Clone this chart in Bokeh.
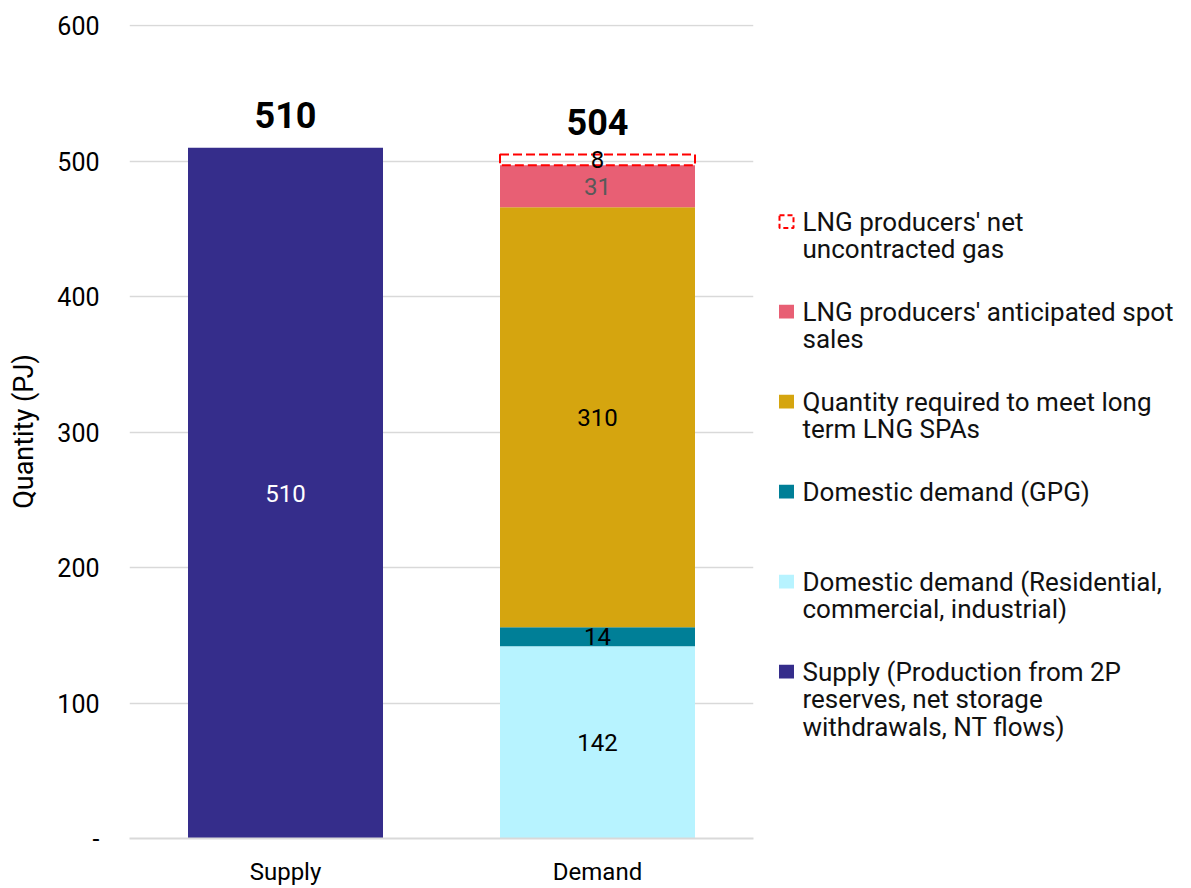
from bokeh.plotting import figure
from bokeh.models import FactorRange, Range1d, FixedTicker, ColumnDataSource
from bokeh.layouts import row
from bokeh.core.properties import value
from bokeh.embed import file_html
from bokeh.resources import INLINE

# ---------------- data ----------------
categories = ["Supply", "Demand"]
supply_value = 510
demand_segments = ["Domestic demand (Residential, commercial, industrial)",
                   "Domestic demand (GPG)",
                   "Quantity required to meet long term LNG SPAs",
                   "LNG producers' anticipated spot sales",
                   "LNG producers' net uncontracted gas"]
demand_values = [142, 14, 310, 31, 8]
totals = [510, 504]
y_ticks = [0, 100, 200, 300, 400, 500, 600]

legend_labels = ["LNG producers' net\nuncontracted gas",
                 "LNG producers' anticipated spot\nsales",
                 "Quantity required to meet long\nterm LNG SPAs",
                 "Domestic demand (GPG)",
                 "Domestic demand (Residential,\ncommercial, industrial)",
                 "Supply (Production from 2P\nreserves, net storage\nwithdrawals, NT flows)"]

# ---------------- styles ----------------
C_SUPPLY = "#352D8B"
seg_colors = ["#B7F3FF", "#007F97", "#D5A50F", "#E85F74", None]
seg_label_colors = ["#000000", "#000000", "#000000", "#595959", "#000000"]
legend_colors = ["#FF0000", "#E85F74", "#D5A50F", "#007F97", "#B7F3FF", C_SUPPLY]
FONT = "Roboto"
NARROW = "Liberation Sans Narrow, Roboto"
GRID = "#D9D9D9"
BAR_W = 0.625

p = figure(x_range=FactorRange(factors=categories, range_padding=0),
           y_range=Range1d(0, 601), width=770, height=888,
           min_border_left=129, min_border_right=17, min_border_top=24,
           min_border_bottom=49, output_backend="svg", toolbar_location=None)
p.outline_line_color = None
p.background_fill_color = "white"
p.border_fill_color = "white"
p.xgrid.grid_line_color = None
p.ygrid.grid_line_color = GRID
p.ygrid.grid_line_width = 1.5

# supply bar
p.vbar(x=[categories[0]], top=[supply_value], bottom=[0], width=BAR_W,
       fill_color=C_SUPPLY, line_color=None)

# demand stack
bottoms, tops = [], []
acc = 0
for v in demand_values:
    bottoms.append(acc)
    acc += v
    tops.append(acc)

for i, name in enumerate(demand_segments):
    if seg_colors[i] is not None:
        p.vbar(x=[categories[1]], bottom=[bottoms[i]], top=[tops[i]], width=BAR_W,
               fill_color=seg_colors[i], line_color=None)
    else:
        p.vbar(x=[categories[1]], bottom=[bottoms[i]], top=[tops[i]], width=BAR_W,
               fill_color=None, line_color="#FF0000", line_width=2, line_dash="9 4")

# segment labels
seg_src = ColumnDataSource(dict(
    x=[categories[0]] + [categories[1]] * len(demand_values),
    y=[supply_value / 2] + [(b + t) / 2 for b, t in zip(bottoms, tops)],
    text=[str(supply_value)] + [str(v) for v in demand_values],
    color=["#FFFFFF"] + seg_label_colors))
p.text(x="x", y="y", text="text", source=seg_src, text_color="color",
       text_font=value(FONT), text_font_size="24px", text_align="center",
       text_baseline="middle")

# totals
tot_src = ColumnDataSource(dict(x=categories, y=[supply_value, tops[-1]],
                                text=[str(t) for t in totals]))
p.text(x="x", y="y", text="text", source=tot_src, text_color="#000000",
       text_font=value(FONT), text_font_size="36px", text_font_style="bold",
       text_align="center", text_baseline="middle", y_offset=-33)

# axes
p.yaxis.ticker = FixedTicker(ticks=y_ticks)
p.yaxis.major_label_overrides = {0: "-"}
p.yaxis.axis_line_color = None
p.yaxis.major_tick_line_color = None
p.yaxis.minor_tick_line_color = None
p.yaxis.major_tick_out = 0
p.yaxis.major_label_standoff = 30
p.yaxis.major_label_text_font = FONT
p.yaxis.major_label_text_font_size = "25px"
p.yaxis.major_label_text_color = "#000000"
p.yaxis.axis_label = "Quantity (PJ)"
p.yaxis.axis_label_text_font = NARROW
p.yaxis.axis_label_text_font_size = "27px"
p.yaxis.axis_label_text_font_style = "normal"
p.yaxis.axis_label_text_color = "#000000"
p.yaxis.axis_label_standoff = 14

p.xaxis.axis_line_color = GRID
p.xaxis.axis_line_width = 2
p.xaxis.major_tick_line_color = None
p.xaxis.minor_tick_line_color = None
p.xaxis.major_tick_out = 0
p.xaxis.major_label_standoff = 19
p.xaxis.major_label_text_font = FONT
p.xaxis.major_label_text_font_size = "24px"
p.xaxis.major_label_text_color = "#000000"

# ---------------- legend panel ----------------
LW, LH = 421, 888
lg = figure(width=LW, height=LH, x_range=Range1d(0, LW), y_range=Range1d(LH, 0),
            min_border=0, output_backend="svg", toolbar_location=None)
lg.axis.visible = False
lg.grid.visible = False
lg.outline_line_color = None

y0, step, line_h = 215, 98.2, 30
mx, tx = 16, 32
for i, (lab, col) in enumerate(zip(legend_labels, legend_colors)):
    yc = y0 + step * i
    if i == 0:
        lg.rect(x=[mx], y=[yc], width=14, height=14, fill_color=None,
                line_color=col, line_width=2, line_dash="5 3")
    else:
        lg.rect(x=[mx], y=[yc], width=15, height=15, fill_color=col, line_color=None)
    lines = lab.split("\n")
    lg.text(x=[tx] * len(lines), y=[yc + k * line_h for k in range(len(lines))],
            text=lines, text_font=value(FONT), text_font_size="26px",
            text_color="#111111", text_align="left", text_baseline="middle")

layout = row(p, lg)
open("out.html", "w").write(file_html(layout, INLINE))
